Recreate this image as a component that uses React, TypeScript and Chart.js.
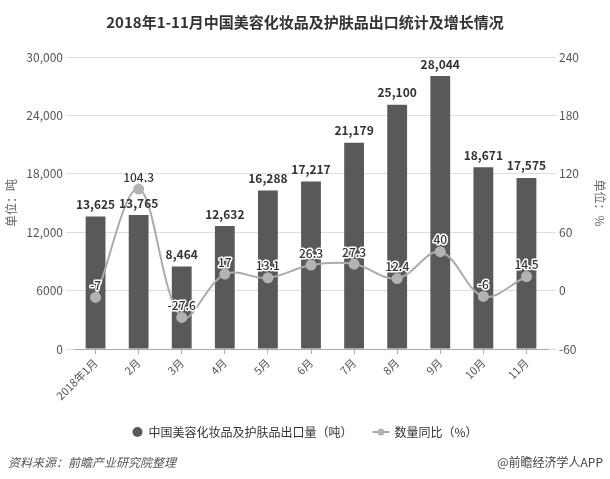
import React, { useEffect, useRef } from 'react';
import { Chart, registerables } from 'chart.js';

Chart.register(...registerables);

const FONT = '"Noto Sans CJK SC", "Noto Sans", sans-serif';

const titleText = '2018年1-11月中国美容化妆品及护肤品出口统计及增长情况';
const months = ['2018年1月', '2月', '3月', '4月', '5月', '6月', '7月', '8月', '9月', '10月', '11月'];
const exportVolume = [13625, 13765, 8464, 12632, 16288, 17217, 21179, 25100, 28044, 18671, 17575];
const yoyGrowth = [-7, 104.3, -27.6, 17, 13.1, 26.3, 27.3, 12.4, 40, -6, 14.5];
const barLabel = '中国美容化妆品及护肤品出口量（吨）';
const lineLabel = '数量同比（%）';
const leftAxisTitle = '单位：吨';
const rightAxisTitle = '单位：%';
const sourceText = '资料来源：前瞻产业研究院整理';
const creditText = '@前瞻经济学人APP';

const BAR_COLOR = '#595959';
const LINE_COLOR = '#ababab';
const POINT_COLOR = '#b3b3b3';

const fmtLeft = (v: number) => (v >= 10000 ? v.toLocaleString('en-US') : String(v));

const decorPlugin = {
  id: 'decor',
  beforeDraw(chart: any) {
    const { ctx, width, height } = chart;
    ctx.save();
    ctx.fillStyle = '#ffffff';
    ctx.fillRect(0, 0, width, height);
    ctx.restore();
  },
  afterDraw(chart: any) {
    const { ctx } = chart;
    ctx.save();
    // title
    ctx.font = `bold 15px ${FONT}`;
    ctx.fillStyle = '#333333';
    ctx.textAlign = 'center';
    ctx.textBaseline = 'middle';
    ctx.fillText(titleText, 305, 22);

    // legend
    ctx.font = `12px ${FONT}`;
    const w1 = ctx.measureText(barLabel).width;
    const w2 = ctx.measureText(lineLabel).width;
    const total = 10 + 6 + w1 + 20 + 17 + 5 + w2;
    let x = 305 - total / 2;
    const ly = 432;
    ctx.fillStyle = BAR_COLOR;
    ctx.beginPath();
    ctx.arc(x + 5, ly, 5, 0, Math.PI * 2);
    ctx.fill();
    x += 16;
    ctx.fillStyle = '#333333';
    ctx.textAlign = 'left';
    ctx.fillText(barLabel, x, ly);
    x += w1 + 20;
    ctx.strokeStyle = LINE_COLOR;
    ctx.lineWidth = 2;
    ctx.beginPath();
    ctx.moveTo(x, ly);
    ctx.lineTo(x + 17, ly);
    ctx.stroke();
    ctx.fillStyle = POINT_COLOR;
    ctx.beginPath();
    ctx.arc(x + 8.5, ly, 3.5, 0, Math.PI * 2);
    ctx.fill();
    x += 22;
    ctx.fillStyle = '#333333';
    ctx.fillText(lineLabel, x, ly);

    // footer
    ctx.font = `italic 12px ${FONT}`;
    ctx.fillStyle = '#555555';
    ctx.textAlign = 'left';
    ctx.fillText(sourceText, 8, 462);
    ctx.font = `12px ${FONT}`;
    ctx.fillStyle = '#444444';
    ctx.textAlign = 'right';
    ctx.fillText(creditText, 603, 462);
    ctx.restore();
  },
  afterDatasetsDraw(chart: any) {
    const { ctx } = chart;
    ctx.save();
    ctx.textAlign = 'center';
    ctx.textBaseline = 'bottom';
    const barMeta = chart.getDatasetMeta(0);
    ctx.font = `bold 12px ${FONT}`;
    ctx.fillStyle = '#333333';
    barMeta.data.forEach((el: any, i: number) => {
      ctx.fillText(exportVolume[i].toLocaleString('en-US'), el.x, el.y - 6);
    });
    const lineMeta = chart.getDatasetMeta(1);
    ctx.font = `500 12px ${FONT}`;
    ctx.lineJoin = 'round';
    lineMeta.data.forEach((el: any, i: number) => {
      const t = String(yoyGrowth[i]);
      ctx.strokeStyle = '#ffffff';
      ctx.lineWidth = 3;
      ctx.strokeText(t, el.x, el.y - 6);
      ctx.fillStyle = '#333333';
      ctx.fillText(t, el.x, el.y - 6);
    });
    ctx.restore();
  },
};

export default function App() {
  const ref = useRef<HTMLCanvasElement | null>(null);
  useEffect(() => {
    if (!ref.current) return;
    Chart.defaults.font.family = FONT;
    const chart = new Chart(ref.current, {
      data: {
        labels: months,
        datasets: [
          {
            type: 'bar',
            label: barLabel,
            data: exportVolume,
            backgroundColor: BAR_COLOR,
            barPercentage: 0.46,
            categoryPercentage: 1,
            yAxisID: 'y',
            order: 1,
          },
          {
            type: 'line',
            label: lineLabel,
            data: yoyGrowth,
            borderColor: LINE_COLOR,
            borderWidth: 2,
            pointRadius: 4.5,
            pointBackgroundColor: POINT_COLOR,
            pointBorderColor: POINT_COLOR,
            tension: 0.35,
            yAxisID: 'y1',
            order: 0,
          },
        ],
      } as any,
      options: {
        responsive: false,
        animation: false,
        layout: { padding: { top: 57, left: 0, right: 0, bottom: 0 } },
        plugins: {
          legend: { display: false },
          title: { display: false },
          tooltip: { enabled: false },
        },
        scales: {
          x: {
            offset: true,
            grid: { offset: false, drawOnChartArea: false, drawTicks: true, tickLength: 5, color: '#aaaaaa' },
            border: { display: true, color: '#aaaaaa' },
            ticks: { color: '#555555', font: { size: 11 }, minRotation: 45, maxRotation: 45, padding: 2 },
            afterFit: (s: any) => {
              s.height = 130;
            },
          },
          y: {
            position: 'left',
            min: 0,
            max: 30000,
            ticks: { stepSize: 6000, color: '#555555', font: { size: 12 }, padding: 3, callback: (v: any) => fmtLeft(Number(v)) },
            grid: { color: '#dddddd', tickLength: 8 },
            border: { display: false },
            title: { display: true, text: leftAxisTitle, color: '#666666', font: { size: 12 }, padding: { top: 4, bottom: 0 } },
            afterFit: (s: any) => {
              s.width = 74;
            },
          },
          y1: {
            position: 'right',
            min: -60,
            max: 240,
            ticks: { stepSize: 60, color: '#555555', font: { size: 12 }, padding: 3 },
            grid: { drawOnChartArea: false, color: '#dddddd', tickLength: 8 },
            border: { display: false },
            title: { display: true, text: rightAxisTitle, color: '#666666', font: { size: 12 }, padding: { top: 3, bottom: 0 } },
            afterFit: (s: any) => {
              s.width = 62;
            },
          },
        },
      } as any,
      plugins: [decorPlugin],
    });
    return () => chart.destroy();
  }, []);
  return (
    <div style={{ position: 'fixed', left: 0, top: 0, width: 610, height: 479 }}>
      <canvas ref={ref} width={610} height={479} />
    </div>
  );
}
